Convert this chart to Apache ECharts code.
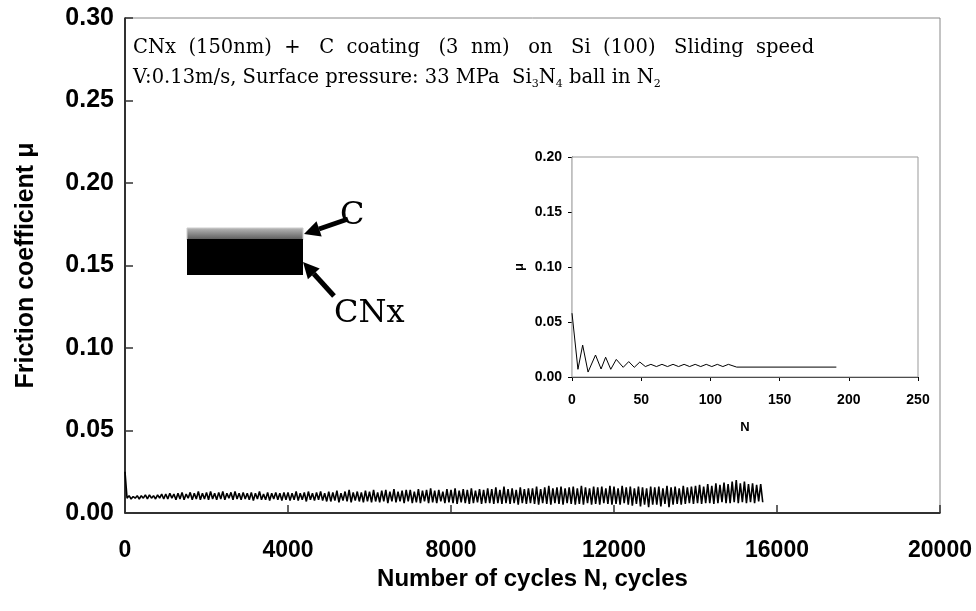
<!DOCTYPE html>
<html><head><meta charset="utf-8">
<script src="https://cdn.jsdelivr.net/npm/echarts@6/dist/echarts.min.js"></script>
<style>html,body{margin:0;padding:0;background:#fff}#c{width:976px;height:611px}</style>
</head><body><div id="c"></div>
<script>
// ---- main chart data: friction coefficient (x1e-3), sampled every 50 cycles ----
var stepCycles = 50;
var muMilli = [
 25,9,10.5,8.5,10,9,10.5,8.5,10.5,9,11,8.5,11,9,10.5,8.5,11,9,11.5,8.5,
 11.5,8.5,12,9,11.5,8,12,8.5,12.5,8,11.5,9,12.5,8,12,8.5,13,8,12,8.5,
 12.5,8,13,8.5,12,8,12.5,8.5,13,8,12,9,12.5,8,13,8.5,12,8,12.5,8.5,
 12,8,12.5,7.5,12,8.5,13,8,11.5,8,12.5,7.5,12,8.5,12.5,8,12,7.5,12.5,8,
 12.5,7.5,12,8,13,7.5,12,8,12.5,7,13,8,12,7.5,12.5,8,13,7.5,12,7,
 13,7,12.5,7.5,13.5,6.5,12,7.5,13,7,14,6.5,12.5,7.5,13,7,12.5,6.5,13.5,7,
 13,6.5,14,7,12.5,6.5,13.5,7,14,6,13,7,14.5,6.5,13,7,13.5,6,14,7,
 14,6,13,6.5,14.5,6,13.5,7,14,6,15,6.5,13.5,6,14,7,13,6,14.5,6.5,
 14,6,15,5.5,13.5,6.5,14.5,6,14,5.5,15,6,13.5,6.5,14.5,5.5,14,6,15,6,
 14.5,5.5,15.5,6,14,5.5,16,6,14.5,5.5,15,6,14,5,15.5,6,14.5,5.5,15,6,
 15,5.5,16,5,14.5,6,15.5,5.5,16.5,5,15,6,15.5,5.5,16,5,15,6,15.5,5.5,
 16,5,15,5.5,16.5,5,15.5,6,15,5,16,5.5,15.5,5,16,6,15,5.5,16.5,5,
 16,5.5,15,5,16.5,6,15.5,5,16,4.5,15,5.5,16,4,15.5,5,15,3.5,16,5,
 15.5,5,16,4,15,5.5,16.5,3.5,15.5,5,16,5.5,15,5,16.5,5.5,15.5,6,16,5.5,
 16.5,6,17,5.5,16,6,17.5,6,16.5,5.5,18,6,17,6.5,18.5,6,17.5,6,19,6.5,
 20,6,18,6.5,19,6,17.5,6.5,18,6,17,7,17.5,6.5
];
// ---- inset data: first cycles ----
var insetN  = [0, 4.3, 7.7, 11.6, 17, 21, 24.3, 28, 32, 37, 41, 45, 49, 53, 57, 61, 65, 69, 73, 77, 81, 85, 89, 93, 97, 101, 105, 109, 113, 119, 191];
var insetMu = [0.058, 0.007, 0.029, 0.0045, 0.020, 0.0073, 0.018, 0.007, 0.016, 0.0088, 0.014, 0.0088, 0.0136, 0.0095, 0.0115, 0.0095, 0.0115, 0.0095, 0.0115, 0.0095, 0.0115, 0.0095, 0.0115, 0.0095, 0.0115, 0.0095, 0.0115, 0.0095, 0.0115, 0.009, 0.009];
// ---- axis ticks ----
var mainXTicks = [0, 4000, 8000, 12000, 16000, 20000];
var mainYTicks = [0, 0.05, 0.10, 0.15, 0.20, 0.25, 0.30];
var insetXTicks = [0, 50, 100, 150, 200, 250];
var insetYTicks = [0, 0.05, 0.10, 0.15, 0.20];

var mainData = muMilli.map(function(v, i){ return [i * stepCycles, v / 1000]; });
var insetData = insetN.map(function(n, i){ return [n, insetMu[i]]; });

var sans = 'Liberation Sans, Arial, sans-serif';
var serif = 'DejaVu Serif, Liberation Serif, serif';
function plain(v){ return String(v); }

var chart = echarts.init(document.getElementById('c'), null, {renderer:'canvas'});
chart.setOption({
  animation: false,
  backgroundColor: '#fff',
  grid: [
    {left:125, top:18, right:36, bottom:98, show:true, borderColor:'#888', borderWidth:1, backgroundColor:'#fff'},
    {left:572, top:157, width:346, height:220, show:true, borderColor:'#999', borderWidth:1, backgroundColor:'#fff', z:5}
  ],
  xAxis: [
    {gridIndex:0, type:'value', min:mainXTicks[0], max:mainXTicks[mainXTicks.length-1], interval:mainXTicks[1]-mainXTicks[0],
     axisLine:{show:true, onZero:false, lineStyle:{color:'#000', width:1.5}},
     axisTick:{show:true, inside:true, length:8, lineStyle:{color:'#333', width:1.5}},
     splitLine:{show:false},
     axisLabel:{color:'#000', fontFamily:sans, fontWeight:'bold', fontSize:23, margin:26, formatter:plain},
     name:'Number of cycles N, cycles', nameLocation:'middle', nameGap:53,
     nameTextStyle:{color:'#000', fontFamily:sans, fontWeight:'bold', fontSize:24}},
    {gridIndex:1, type:'value', min:insetXTicks[0], max:insetXTicks[insetXTicks.length-1], interval:insetXTicks[1]-insetXTicks[0],
     axisLine:{show:true, onZero:false, lineStyle:{color:'#000', width:1.2}},
     axisTick:{show:true, inside:false, length:4, lineStyle:{color:'#000'}},
     splitLine:{show:false},
     axisLabel:{color:'#000', fontFamily:sans, fontWeight:'bold', fontSize:14, margin:16, formatter:plain},
     name:'N', nameLocation:'middle', nameGap:44,
     nameTextStyle:{color:'#000', fontFamily:sans, fontWeight:'bold', fontSize:13}}
  ],
  yAxis: [
    {gridIndex:0, type:'value', min:mainYTicks[0], max:mainYTicks[mainYTicks.length-1], interval:0.05,
     axisLine:{show:true, onZero:false, lineStyle:{color:'#000', width:1.5}},
     axisTick:{show:true, inside:true, length:8, lineStyle:{color:'#333', width:1.5}},
     splitLine:{show:false},
     axisLabel:{color:'#000', fontFamily:sans, fontWeight:'bold', fontSize:25, margin:11,
       formatter:function(v){ return v.toFixed(2); }},
     name:'Friction coefficient μ', nameLocation:'middle', nameGap:86,
     nameTextStyle:{color:'#000', fontFamily:sans, fontWeight:'bold', fontSize:25}},
    {gridIndex:1, type:'value', min:insetYTicks[0], max:insetYTicks[insetYTicks.length-1], interval:0.05,
     axisLine:{show:true, onZero:false, lineStyle:{color:'#000', width:1.2}},
     axisTick:{show:true, inside:false, length:4, lineStyle:{color:'#000'}},
     splitLine:{show:false},
     axisLabel:{color:'#000', fontFamily:sans, fontWeight:'bold', fontSize:14, margin:10,
       formatter:function(v){ return v.toFixed(2); }},
     name:'μ', nameLocation:'middle', nameGap:46, nameRotate:90,
     nameTextStyle:{color:'#000', fontFamily:sans, fontWeight:'bold', fontSize:13}}
  ],
  series: [
    {type:'line', xAxisIndex:0, yAxisIndex:0, data:mainData, showSymbol:false, symbol:'none',
     lineStyle:{color:'#000', width:1.6}, z:2},
    {type:'line', xAxisIndex:1, yAxisIndex:1, data:insetData, showSymbol:false, symbol:'none',
     lineStyle:{color:'#000', width:1}, z:6}
  ],
  graphic: [
    {type:'text', left:133, top:33, z:10, style:{
      text:'CNx  (150nm)  +   C  coating   (3  nm)   on   Si  (100)   Sliding  speed\nV:0.13m/s, Surface pressure: 33 MPa  Si{s|3}N{s|4} ball in N{s|2}',
      fontFamily:serif, fontSize:19.5, lineHeight:30, fill:'#000',
      rich:{s:{fontFamily:serif, fontSize:11, fill:'#000', padding:[12,0,0,0], lineHeight:11}}}},
    {type:'rect', shape:{x:187, y:228, width:116, height:12}, z:10,
     style:{fill:new echarts.graphic.LinearGradient(0,0,0,1,[{offset:0,color:'#bbb'},{offset:1,color:'#555'}]), stroke:'#ccc', lineWidth:1}},
    {type:'rect', shape:{x:187, y:239, width:116, height:36}, z:11, style:{fill:'#000'}},
    {type:'line', shape:{x1:348, y1:219, x2:319, y2:229}, z:11, style:{stroke:'#000', lineWidth:5}},
    {type:'polygon', shape:{points:[[304,234],[316.5,221.2],[321.7,236.4]]}, z:11, style:{fill:'#000'}},
    {type:'line', shape:{x1:334, y1:296, x2:313.8, y2:273.8}, z:11, style:{stroke:'#000', lineWidth:5}},
    {type:'polygon', shape:{points:[[303,262],[319.7,268.4],[307.9,279.2]]}, z:11, style:{fill:'#000'}},
    {type:'text', left:340, top:200, z:11, style:{text:'C', fontFamily:serif, fontSize:32, fill:'#000'}},
    {type:'text', left:334, top:298, z:11, style:{text:'CNx', fontFamily:serif, fontSize:32, fill:'#000'}}
  ]
});
</script></body></html>
